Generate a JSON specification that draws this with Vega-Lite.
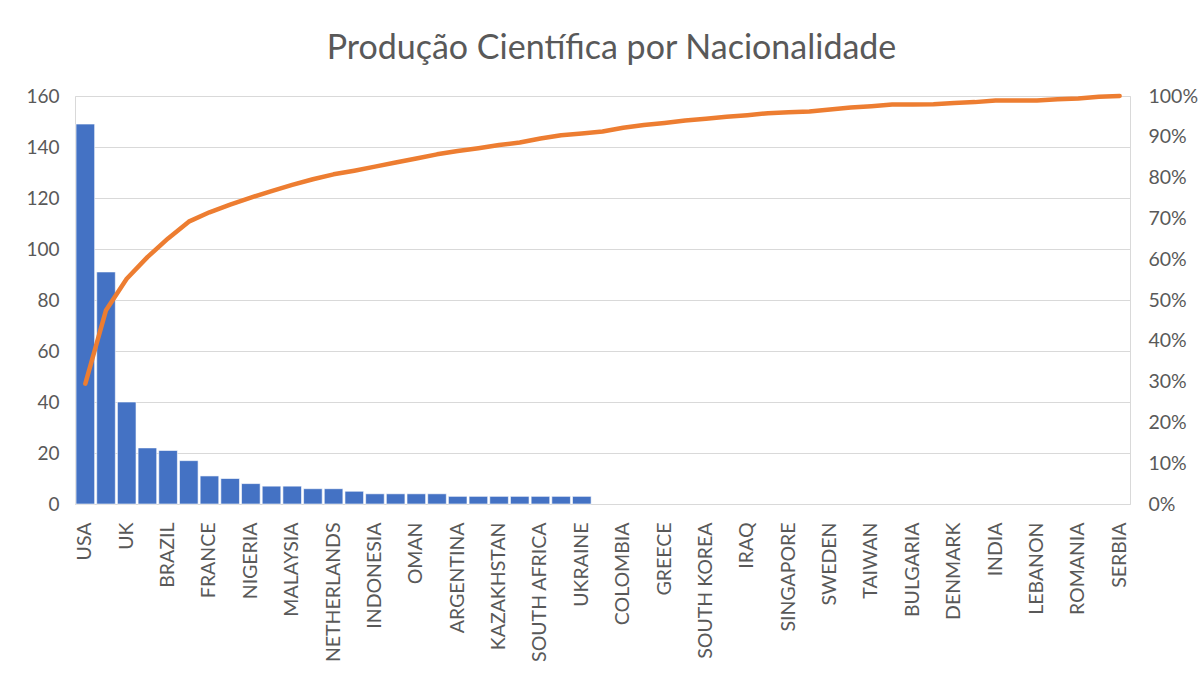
{
  "$schema": "https://vega.github.io/schema/vega-lite/v6.json",
  "width": 1055,
  "height": 408,
  "autosize": "none",
  "padding": {"left": 75, "top": 96, "right": 73, "bottom": 171},
  "background": "white",
  "title": {
    "text": "Produção Científica por Nacionalidade",
    "font": "Lato",
    "fontSize": 34,
    "fontWeight": "normal",
    "color": "#595959",
    "anchor": "middle",
    "frame": "group",
    "offset": 20,
    "dx": 9
  },
  "config": {
    "view": {"stroke": "#d9d9d9", "strokeWidth": 1},
    "axis": {
      "labelFont": "Lato",
      "labelColor": "#595959",
      "gridColor": "#d9d9d9",
      "gridWidth": 1.2,
      "domain": false,
      "ticks": false,
      "title": null
    }
  },
  "data": {
    "values": [
      {"pais": "USA", "publicacoes": 149, "acumulado": 0.295},
      {"pais": "#2", "publicacoes": 91, "acumulado": 0.475},
      {"pais": "UK", "publicacoes": 40, "acumulado": 0.552},
      {"pais": "#4", "publicacoes": 22, "acumulado": 0.605},
      {"pais": "BRAZIL", "publicacoes": 21, "acumulado": 0.651},
      {"pais": "#6", "publicacoes": 17, "acumulado": 0.692},
      {"pais": "FRANCE", "publicacoes": 11, "acumulado": 0.715},
      {"pais": "#8", "publicacoes": 10, "acumulado": 0.734},
      {"pais": "NIGERIA", "publicacoes": 8, "acumulado": 0.751},
      {"pais": "#10", "publicacoes": 7, "acumulado": 0.767},
      {"pais": "MALAYSIA", "publicacoes": 7, "acumulado": 0.782},
      {"pais": "#12", "publicacoes": 6, "acumulado": 0.796},
      {"pais": "NETHERLANDS", "publicacoes": 6, "acumulado": 0.808},
      {"pais": "#14", "publicacoes": 5, "acumulado": 0.817},
      {"pais": "INDONESIA", "publicacoes": 4, "acumulado": 0.827},
      {"pais": "#16", "publicacoes": 4, "acumulado": 0.837},
      {"pais": "OMAN", "publicacoes": 4, "acumulado": 0.847},
      {"pais": "#18", "publicacoes": 4, "acumulado": 0.857},
      {"pais": "ARGENTINA", "publicacoes": 3, "acumulado": 0.865},
      {"pais": "#20", "publicacoes": 3, "acumulado": 0.872},
      {"pais": "KAZAKHSTAN", "publicacoes": 3, "acumulado": 0.880},
      {"pais": "#22", "publicacoes": 3, "acumulado": 0.886},
      {"pais": "SOUTH AFRICA", "publicacoes": 3, "acumulado": 0.896},
      {"pais": "#24", "publicacoes": 3, "acumulado": 0.904},
      {"pais": "UKRAINE", "publicacoes": 3, "acumulado": 0.908},
      {"pais": "#26", "publicacoes": null, "acumulado": 0.913},
      {"pais": "COLOMBIA", "publicacoes": null, "acumulado": 0.922},
      {"pais": "#28", "publicacoes": null, "acumulado": 0.929},
      {"pais": "GREECE", "publicacoes": null, "acumulado": 0.934},
      {"pais": "#30", "publicacoes": null, "acumulado": 0.940},
      {"pais": "SOUTH KOREA", "publicacoes": null, "acumulado": 0.944},
      {"pais": "#32", "publicacoes": null, "acumulado": 0.949},
      {"pais": "IRAQ", "publicacoes": null, "acumulado": 0.953},
      {"pais": "#34", "publicacoes": null, "acumulado": 0.958},
      {"pais": "SINGAPORE", "publicacoes": null, "acumulado": 0.960},
      {"pais": "#36", "publicacoes": null, "acumulado": 0.962},
      {"pais": "SWEDEN", "publicacoes": null, "acumulado": 0.967},
      {"pais": "#38", "publicacoes": null, "acumulado": 0.972},
      {"pais": "TAIWAN", "publicacoes": null, "acumulado": 0.975},
      {"pais": "#40", "publicacoes": null, "acumulado": 0.979},
      {"pais": "BULGARIA", "publicacoes": null, "acumulado": 0.979},
      {"pais": "#42", "publicacoes": null, "acumulado": 0.980},
      {"pais": "DENMARK", "publicacoes": null, "acumulado": 0.983},
      {"pais": "#44", "publicacoes": null, "acumulado": 0.985},
      {"pais": "INDIA", "publicacoes": null, "acumulado": 0.989},
      {"pais": "#46", "publicacoes": null, "acumulado": 0.989},
      {"pais": "LEBANON", "publicacoes": null, "acumulado": 0.989},
      {"pais": "#48", "publicacoes": null, "acumulado": 0.992},
      {"pais": "ROMANIA", "publicacoes": null, "acumulado": 0.994},
      {"pais": "#50", "publicacoes": null, "acumulado": 0.998},
      {"pais": "SERBIA", "publicacoes": null, "acumulado": 1.0}
    ]
  },
  "encoding": {
    "x": {
      "field": "pais",
      "type": "nominal",
      "sort": null,
      "scale": {"paddingInner": 0.1, "paddingOuter": 0.05},
      "axis": {
        "values": ["USA", "UK", "BRAZIL", "FRANCE", "NIGERIA", "MALAYSIA", "NETHERLANDS", "INDONESIA", "OMAN", "ARGENTINA", "KAZAKHSTAN", "SOUTH AFRICA", "UKRAINE", "COLOMBIA", "GREECE", "SOUTH KOREA", "IRAQ", "SINGAPORE", "SWEDEN", "TAIWAN", "BULGARIA", "DENMARK", "INDIA", "LEBANON", "ROMANIA", "SERBIA"],
        "labelAngle": -90,
        "labelAlign": "right",
        "labelBaseline": "middle",
        "labelFontSize": 19.5,
        "labelPadding": 18,
        "labelOverlap": false,
        "grid": false
      }
    }
  },
  "layer": [
    {
      "mark": {"type": "bar", "color": "#4472C4", "stroke": "white", "strokeWidth": 0.6},
      "encoding": {
        "y": {
          "field": "publicacoes",
          "type": "quantitative",
          "scale": {"domain": [0, 160], "nice": false},
          "axis": {
            "values": [0, 20, 40, 60, 80, 100, 120, 140, 160],
            "labelFontSize": 19,
            "labelPadding": 16,
            "grid": true
          }
        }
      }
    },
    {
      "mark": {"type": "line", "color": "#ED7D31", "strokeWidth": 4.5, "strokeCap": "round", "strokeJoin": "round"},
      "encoding": {
        "y": {
          "field": "acumulado",
          "type": "quantitative",
          "scale": {"domain": [0, 1], "nice": false},
          "axis": {
            "orient": "right",
            "format": ".0%",
            "values": [0, 0.1, 0.2, 0.3, 0.4, 0.5, 0.6, 0.7, 0.8, 0.9, 1],
            "labelFontSize": 19.5,
            "labelPadding": 18,
            "grid": false
          }
        }
      }
    }
  ],
  "resolve": {"scale": {"y": "independent"}}
}
